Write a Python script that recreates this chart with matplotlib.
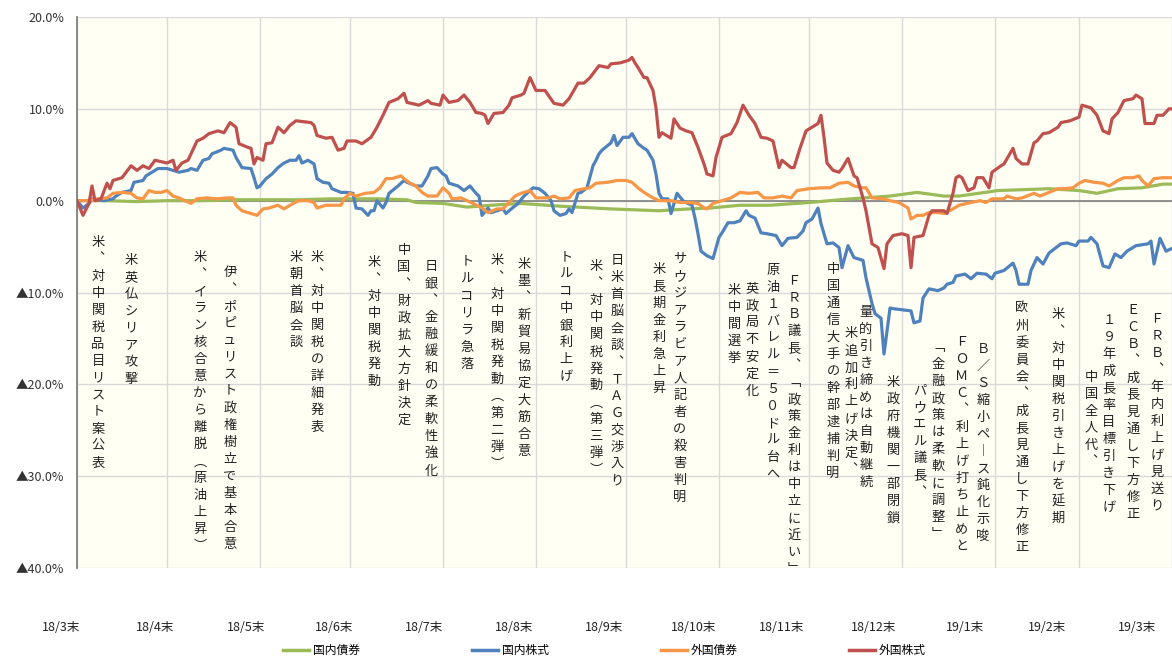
import pandas as pd
import matplotlib
matplotlib.use("Agg")
import matplotlib.pyplot as plt
from matplotlib.lines import Line2D

plt.rcParams['font.family'] = ['Noto Sans CJK JP', 'DejaVu Sans']

start = pd.Timestamp('2018-03-31')

# 累積騰落率(%)  day = 2018/3末からの日数
dom_bond_day = [0, 10, 20, 30, 42, 53, 64, 74, 85, 100,
                110, 113, 122, 130, 138, 148, 161, 178, 194, 204,
                211, 221, 231, 244, 258, 271, 280, 289, 294, 307,
                324, 334, 340, 347, 355, 362, 365]
dom_bond = [0.0, 0.0, -0.1, 0.0, 0.0, 0.1, 0.1, 0.1, 0.2, 0.2,
            0.1, -0.2, -0.3, -0.7, -0.5, -0.3, -0.6, -0.9, -1.1, -0.9,
            -0.8, -0.5, -0.5, -0.2, 0.2, 0.5, 0.9, 0.5, 0.5, 1.1,
            1.3, 1.1, 0.8, 1.3, 1.4, 1.8, 1.8]

dom_stock_day = [0, 2, 4, 5, 9, 12, 13, 15, 18, 19,
                 22, 23, 25, 27, 30, 32, 34, 37, 38, 40,
                 42, 44, 45, 48, 49, 52, 53, 55, 58, 59,
                 60, 61, 63, 65, 67, 69, 71, 73, 74, 75,
                 77, 79, 80, 82, 84, 85, 88, 90, 92, 93,
                 95, 97, 98, 99, 100, 102, 103, 104, 107, 109,
                 110, 113, 115, 117, 118, 120, 122, 123, 124, 127,
                 129, 131, 133, 134, 135, 137, 138, 140, 142, 143,
                 144, 147, 149, 152, 154, 156, 158, 159, 161, 163,
                 164, 165, 167, 168, 170, 172, 173, 174, 175, 178,
                 179, 180, 182, 184, 185, 187, 189, 190, 192, 193,
                 194, 195, 197, 198, 200, 202, 203, 205, 206, 207,
                 208, 210, 212, 214, 215, 217, 219, 221, 223, 224,
                 226, 228, 230, 233, 235, 237, 240, 242, 243, 245,
                 247, 248, 250, 252, 254, 255, 257, 259, 262, 263,
                 265, 266, 268, 269, 271, 273, 278, 279, 281, 282,
                 284, 287, 289, 290, 292, 293, 296, 298, 300, 303,
                 305, 306, 309, 312, 313, 314, 317, 318, 320, 322,
                 324, 326, 328, 330, 333, 334, 337, 338, 340, 342,
                 344, 346, 348, 350, 353, 357, 358, 359, 361, 363,
                 365]
dom_stock = [0.0, -0.8, -0.3, 0.2, 0.0, 0.2, 0.5, 0.9, 1.1, 2.0,
             2.2, 2.7, 3.1, 3.5, 3.5, 3.3, 3.1, 3.3, 3.5, 3.3,
             4.4, 4.6, 5.1, 5.5, 5.7, 5.5, 4.7, 3.6, 3.5, 2.5,
             1.4, 1.6, 2.4, 2.9, 3.6, 4.1, 4.4, 4.4, 4.9, 4.1,
             4.4, 4.0, 2.4, 2.0, 1.9, 1.3, 0.9, 0.9, 0.8, -0.8,
             -0.9, -1.6, -1.1, -1.1, 0.0, -0.8, -0.2, 0.8, 1.6, 2.2,
             2.0, 1.6, 1.6, 2.7, 3.5, 3.6, 2.9, 2.7, 1.9, 1.6,
             1.1, 1.6, 0.8, 0.5, -1.6, -0.8, -1.3, -1.1, -0.9, -1.4,
             -1.1, -0.3, 0.5, 1.4, 1.3, 0.8, 0.0, -1.1, -1.6, -1.4,
             -0.9, -1.3, 0.8, 0.9, 1.4, 3.8, 4.4, 5.1, 5.5, 6.3,
             7.1, 6.0, 6.9, 6.9, 7.3, 6.2, 5.7, 5.5, 4.4, 2.9,
             0.8, 0.2, 0.2, -1.4, 0.8, 0.0, -0.2, -0.5, -1.9, -3.6,
             -5.5, -6.0, -6.3, -4.0, -3.5, -2.4, -2.4, -2.2, -1.1, -1.6,
             -1.9, -3.5, -3.6, -3.8, -4.9, -4.1, -4.0, -3.3, -2.4, -2.0,
             -0.8, -2.5, -4.7, -4.6, -5.1, -7.3, -4.9, -6.2, -6.5, -8.4,
             -11.2, -12.3, -12.8, -16.7, -11.7, -11.8, -12.0, -13.3, -13.1, -10.6,
             -9.6, -9.8, -9.5, -9.1, -8.9, -8.2, -8.0, -8.5, -7.9, -8.0,
             -8.5, -7.9, -7.6, -6.8, -7.6, -9.1, -9.1, -7.6, -6.2, -6.9,
             -5.7, -5.2, -4.7, -4.6, -4.9, -4.4, -4.4, -4.0, -4.7, -7.1,
             -7.3, -5.8, -6.2, -5.5, -4.9, -4.7, -4.4, -6.9, -4.1, -5.5,
             -5.2]

for_bond_day = [0, 3, 7, 10, 12, 15, 18, 20, 22, 24,
                26, 28, 30, 32, 34, 36, 38, 40, 43, 47,
                50, 52, 53, 55, 58, 60, 62, 64, 67, 69,
                72, 74, 77, 79, 80, 83, 88, 89, 91, 93,
                96, 99, 101, 103, 105, 108, 109, 111, 113, 115,
                117, 120, 122, 124, 125, 128, 130, 132, 135, 137,
                140, 142, 144, 146, 148, 149, 151, 153, 157, 159,
                161, 164, 166, 169, 171, 173, 177, 180, 183, 185,
                187, 189, 192, 194, 198, 201, 204, 207, 209, 210,
                212, 215, 218, 221, 224, 227, 229, 232, 235, 238,
                240, 244, 248, 251, 254, 257, 259, 262, 263, 265,
                269, 271, 274, 277, 278, 280, 282, 284, 287, 289,
                292, 294, 298, 301, 303, 305, 309, 310, 313, 315,
                319, 321, 324, 327, 329, 332, 334, 336, 339, 342,
                344, 347, 349, 352, 354, 355, 357, 359, 362, 365]
for_bond = [0.0, 0.0, 0.2, 0.3, 0.8, 0.9, 0.8, 0.3, 0.2, 1.1,
            0.9, 0.9, 1.1, 0.5, 0.3, 0.0, -0.3, 0.2, 0.3, 0.2,
            0.3, 0.3, -0.5, -1.1, -1.4, -1.6, -0.9, -0.8, -0.5, -0.9,
            -0.3, 0.0, 0.0, -0.2, -0.8, -0.5, -0.5, 0.2, 0.8, 0.5,
            0.8, 0.9, 1.4, 2.4, 2.4, 2.7, 2.4, 1.9, 1.6, 0.9,
            0.5, 0.5, 1.4, 0.8, 0.2, 0.3, 0.0, -0.3, -0.8, -1.3,
            -0.9, -0.9, -0.2, 0.5, 0.8, 0.9, 1.1, 0.3, 0.3, 0.5,
            0.2, 0.3, 1.1, 1.3, 1.4, 1.9, 2.0, 2.2, 2.2, 2.0,
            1.4, 0.9, 0.3, 0.0, 0.0, -0.2, -0.2, -0.3, -0.8, -0.9,
            -0.3, 0.0, 0.3, 0.9, 0.8, 0.9, 0.3, 0.3, 0.5, 0.3,
            1.1, 1.3, 1.4, 1.4, 1.9, 2.0, 1.6, 1.4, 1.4, 0.3,
            0.2, 0.0, -0.2, -0.8, -2.0, -1.6, -1.6, -1.3, -1.3, -1.4,
            -0.9, -0.5, -0.2, 0.0, -0.2, 0.2, 0.2, 0.5, 0.2, 0.3,
            0.8, 0.5, 0.9, 1.3, 1.3, 1.4, 1.9, 2.2, 2.0, 1.9,
            1.6, 2.2, 2.5, 2.5, 2.7, 2.2, 1.6, 2.4, 2.5, 2.5]

for_stock_day = [0, 2, 4, 5, 6, 8, 10, 11, 12, 15,
                 18, 20, 22, 24, 26, 30, 32, 33, 35, 37,
                 40, 42, 44, 47, 49, 51, 53, 54, 57, 58,
                 59, 60, 62, 63, 65, 67, 69, 71, 73, 78,
                 79, 80, 83, 85, 87, 89, 90, 93, 95, 98,
                 100, 102, 104, 107, 109, 110, 114, 117, 118, 121,
                 122, 124, 127, 129, 131, 133, 135, 136, 137, 139,
                 142, 144, 145, 148, 149, 151, 153, 156, 159, 162,
                 164, 167, 169, 171, 174, 177, 178, 181, 184, 185,
                 186, 187, 189, 190, 192, 193, 194, 195, 198, 199,
                 201, 203, 205, 207, 208, 209, 210, 212, 213, 215,
                 218, 220, 222, 224, 226, 228, 230, 232, 234, 235,
                 238, 239, 241, 243, 245, 247, 248, 249, 250, 252,
                 254, 255, 257, 259, 260, 262, 263, 265, 267, 269,
                 270, 272, 275, 277, 278, 279, 282, 284, 285, 289,
                 290, 292, 293, 294, 295, 297, 299, 300, 302, 304,
                 305, 308, 309, 312, 313, 315, 317, 319, 320, 322,
                 324, 327, 328, 331, 334, 335, 338, 340, 342, 344,
                 345, 347, 349, 352, 353, 355, 356, 359, 360, 362,
                 364, 365]
for_stock = [0.0, -1.6, -0.3, 1.6, 0.0, 0.2, 1.9, 1.3, 2.2, 2.5,
             3.8, 3.3, 3.8, 3.5, 4.4, 4.1, 4.4, 3.3, 4.1, 4.4,
             6.5, 6.8, 7.3, 7.6, 7.4, 8.5, 8.0, 6.2, 5.8, 5.7,
             4.0, 4.7, 4.4, 6.2, 6.3, 8.0, 7.4, 8.2, 8.7, 8.5,
             8.2, 7.1, 6.8, 6.9, 5.5, 5.7, 6.5, 6.5, 6.2, 6.9,
             8.0, 9.3, 10.7, 11.1, 11.7, 10.7, 10.4, 10.9, 10.6, 10.4,
             11.5, 10.7, 10.9, 11.5, 10.7, 9.6, 9.5, 9.3, 8.4, 9.5,
             9.6, 10.4, 11.2, 11.5, 11.7, 13.4, 12.0, 12.0, 10.6, 10.4,
             11.1, 12.8, 12.8, 13.4, 14.7, 14.5, 14.9, 15.0, 15.3, 15.6,
             15.0, 14.5, 13.4, 13.4, 12.0, 10.1, 6.9, 7.4, 6.8, 8.9,
             7.9, 7.6, 7.4, 5.8, 4.9, 4.0, 2.9, 2.7, 4.7, 6.9,
             7.3, 8.5, 10.4, 9.3, 8.4, 6.9, 6.8, 6.5, 3.6, 4.4,
             3.6, 3.6, 5.7, 7.6, 8.0, 8.4, 9.3, 6.9, 4.1, 3.3,
             3.1, 3.5, 4.6, 2.7, 2.5, 0.3, -1.1, -4.7, -5.1, -7.4,
             -4.7, -3.8, -3.6, -3.8, -7.3, -4.0, -3.8, -1.6, -1.1, -1.1,
             -1.4, 0.8, 2.5, 2.7, 2.5, 1.1, 1.4, 2.5, 2.5, 1.4,
             3.1, 3.8, 4.0, 5.7, 4.6, 4.0, 4.0, 6.3, 6.5, 7.3,
             7.4, 8.0, 8.5, 8.7, 9.1, 10.4, 10.1, 9.3, 7.6, 7.3,
             8.9, 9.6, 10.9, 11.1, 11.5, 11.1, 8.4, 8.4, 9.3, 9.3,
             10.0, 10.0]

series_names = ['国内債券', '国内株式', '外国債券', '外国株式']
series_colors = ['#9BBB59', '#4F81BD', '#F79646', '#C0504D']

month_labels = ['18/3末', '18/4末', '18/5末', '18/6末', '18/7末', '18/8末', '18/9末',
                '18/10末', '18/11末', '18/12末', '19/1末', '19/2末', '19/3末']

# イベント(日付と内容)
event_date = ['2018-04-07', '2018-04-18', '2018-05-11', '2018-05-21', '2018-06-12',
              '2018-06-19', '2018-07-08', '2018-07-18', '2018-07-27', '2018-08-08',
              '2018-08-18', '2018-08-27', '2018-09-10', '2018-09-20', '2018-09-27',
              '2018-10-11', '2018-10-18', '2018-11-05', '2018-11-11', '2018-11-18',
              '2018-11-25', '2018-12-08', '2018-12-14', '2018-12-19', '2018-12-28',
              '2019-01-06', '2019-01-12', '2019-01-20', '2019-01-27', '2019-02-09',
              '2019-02-21', '2019-03-04', '2019-03-10', '2019-03-18', '2019-03-26']
event_text = ['米、対中関税品目リスト案公表', '米英仏シリア攻撃',
              '米、イラン核合意から離脱（原油上昇）', '伊、ポピュリスト政権樹立で基本合意',
              '米朝首脳会談', '米、対中関税の詳細発表', '米、対中関税発動',
              '中国、財政拡大方針決定', '日銀、金融緩和の柔軟性強化', 'トルコリラ急落',
              '米、対中関税発動（第二弾）', '米墨、新貿易協定大筋合意', 'トルコ中銀利上げ',
              '米、対中関税発動（第三弾）', '日米首脳会談、TAG交渉入り', '米長期金利急上昇',
              'サウジアラビア人記者の殺害判明', '米中間選挙', '英政局不安定化',
              '原油1バレル＝50ドル台へ', 'FRB議長、「政策金利は中立に近い」',
              '中国通信大手の幹部逮捕判明', '米追加利上げ決定、', '量的引き締めは自動継続',
              '米政府機関一部閉鎖', 'パウエル議長、', '「金融政策は柔軟に調整」',
              'FOMC、利上げ打ち止めと', 'B/S縮小ペース鈍化示唆',
              '欧州委員会、成長見通し下方修正', '米、対中関税引き上げを延期', '中国全人代、',
              '19年成長率目標引き下げ', 'ECB、成長見通し下方修正', 'FRB、年内利上げ見送り']
# 縦書きラベルの上端(%)
event_top = [-3.8, -5.8, -5.5, -7.1, -5.5, -5.5, -6.0, -4.7, -6.5, -6.0,
             -5.8, -6.2, -5.5, -6.5, -5.8, -6.8, -5.7, -9.1, -8.9, -6.9,
             -8.0, -6.8, -13.8, -11.5, -19.1, -20.0, -15.3, -14.7, -15.5, -11.1,
             -11.7, -18.5, -12.3, -11.2, -12.2]


def to_dates(days):
    return start + pd.to_timedelta(days, unit='D')


def tate(s):
    # 縦書き用に1文字ずつ改行、句読点や括弧は縦組み用の字形へ
    swap = {'、': '\ufe11', '（': '\ufe35', '）': '\ufe36', '「': '\ufe41',
            '」': '\ufe42', 'ー': '\ufe31'}
    out = []
    for ch in s:
        if ch in swap:
            ch = swap[ch]
        elif '!' <= ch <= '~':
            ch = chr(ord(ch) + 0xFEE0)
        out.append(ch)
    return '\n'.join(out)


fig = plt.figure(figsize=(11.72, 6.61), dpi=100)
ax = fig.add_axes([77 / 1172, 1 - 568 / 661, 1095 / 1172, 551 / 661])
ax.set_facecolor('#FFFFF4')

series = [(dom_bond_day, dom_bond), (dom_stock_day, dom_stock),
          (for_bond_day, for_bond), (for_stock_day, for_stock)]
for (d, v), name, c in zip(series, series_names, series_colors):
    ax.plot(to_dates(d), v, color=c, lw=2.3, label=name, zorder=3)

month_ends = pd.date_range(start, periods=13, freq=pd.offsets.MonthEnd())
ax.set_xlim(month_ends[0], month_ends[-1])
ax.set_ylim(-40, 20)
ax.set_xticks(month_ends)
ax.set_xticklabels([])
yt = list(range(-40, 21, 10))
ax.set_yticks(yt)
ax.set_yticklabels([f'{v:.1f}%' if v >= 0 else f'▲{-v:.1f}%' for v in yt])
ax.tick_params(length=0)
ax.tick_params(axis='y', pad=9, labelsize=9, labelcolor='#333333')
ax.grid(True, color='#D9D9D9', lw=1)
ax.set_axisbelow(True)
for side in ['top', 'right', 'bottom']:
    ax.spines[side].set_visible(False)
ax.spines['left'].set_color('#808080')
ax.spines['left'].set_linewidth(1.3)
ax.axhline(0, color='#808080', lw=1.2, zorder=2)

for dt, txt, top in zip(event_date, event_text, event_top):
    ax.text(pd.Timestamp(dt), top, tate(txt), ha='center', va='top',
            multialignment='center', fontsize=9.5, linespacing=1.4,
            color='#222222', zorder=5)

# 月末ラベル
label_x = [0.052, 0.132, 0.210, 0.285, 0.362, 0.439, 0.515,
           0.592, 0.667, 0.745, 0.823, 0.893, 0.970]
for x, lab in zip(label_x, month_labels):
    fig.text(x, 0.05, lab, ha='center', va='center', fontsize=9, color='#222222')

handles = [Line2D([0], [0], color=c, lw=2.5) for c in series_colors]
fig.legend(handles, series_names, loc='center', bbox_to_anchor=(0.516, 0.016),
           ncol=4, frameon=False, fontsize=8.5, handlelength=2.2,
           handletextpad=0.3, columnspacing=9.5)

fig.savefig('out.png', dpi=100, facecolor='white')
